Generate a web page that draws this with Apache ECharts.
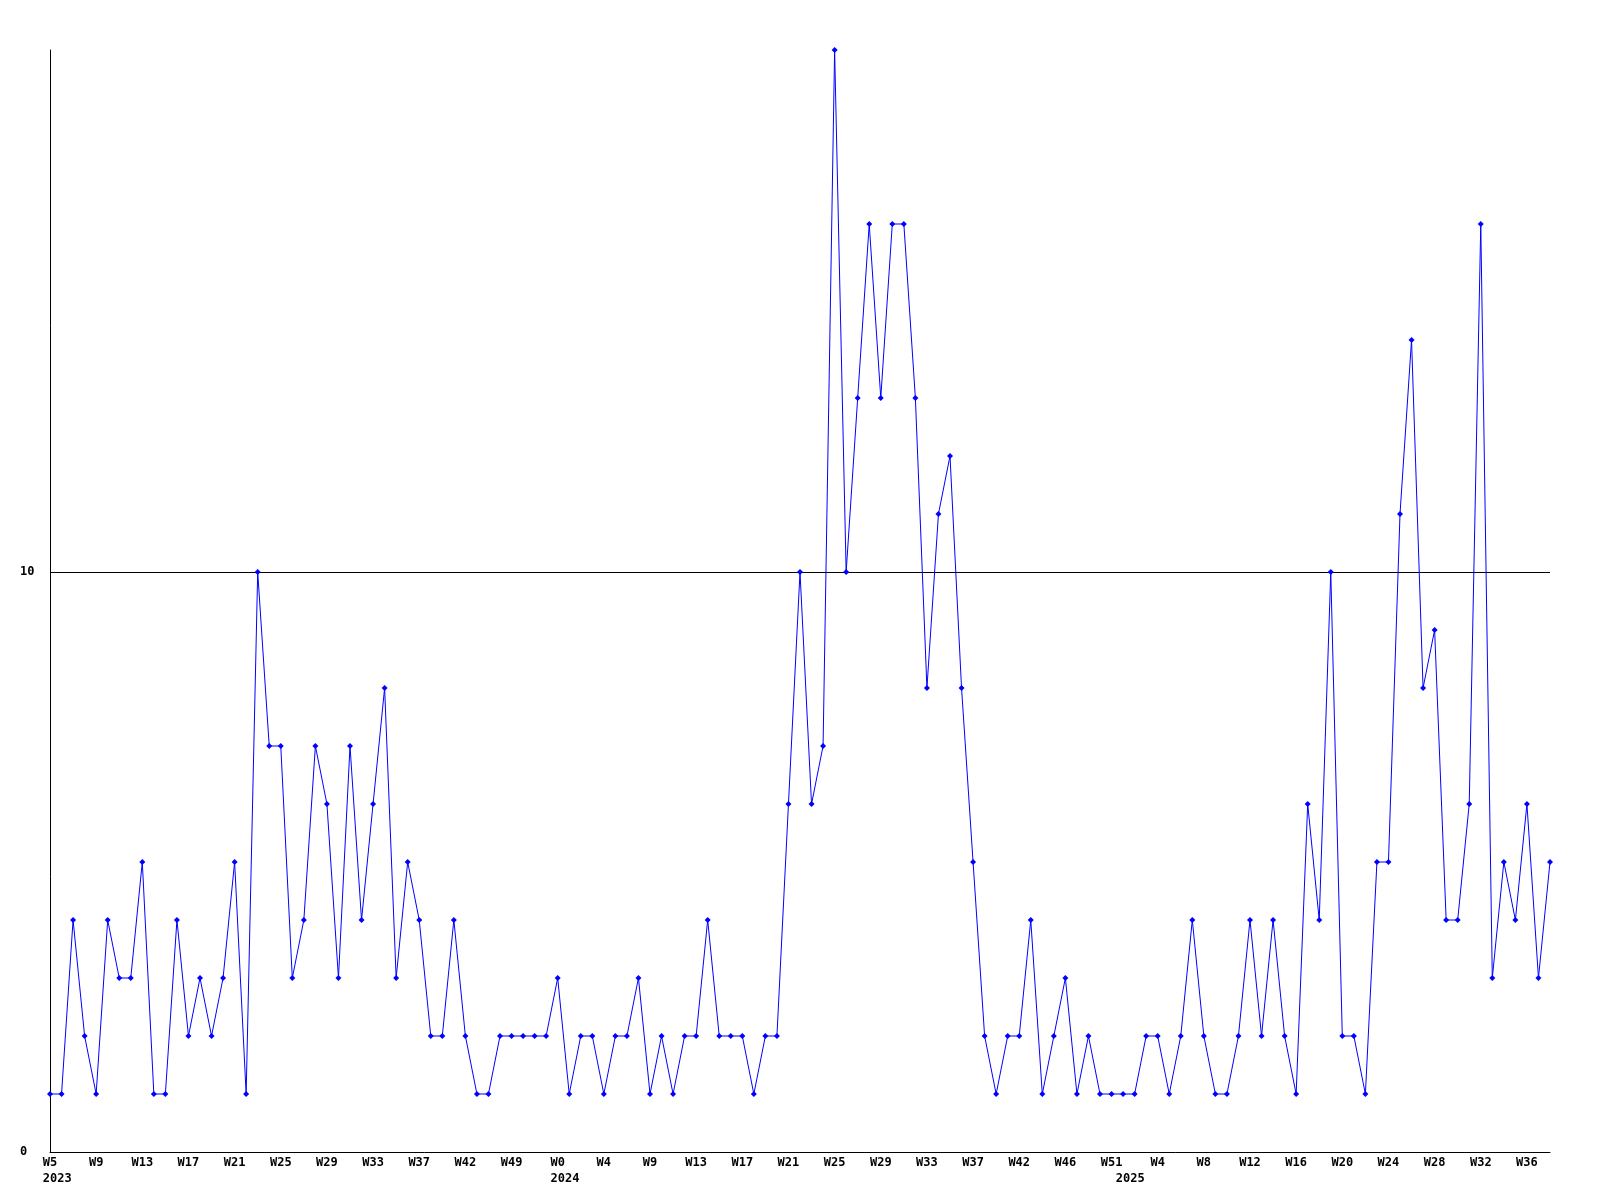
<!DOCTYPE html>
<html>
<head>
<meta charset="utf-8">
<script src="https://cdn.jsdelivr.net/npm/echarts@6/dist/echarts.min.js"></script>
<style>
html,body{margin:0;padding:0;background:#fff;}
#chart{width:1600px;height:1200px;}
</style>
</head>
<body>
<div id="chart"></div>
<script>
// Weekly categories (year-week)
const categories = [
  "2023-W5","2023-W6","2023-W7","2023-W8","2023-W9","2023-W10","2023-W11","2023-W12","2023-W13","2023-W14",
  "2023-W15","2023-W16","2023-W17","2023-W18","2023-W19","2023-W20","2023-W21","2023-W22","2023-W23","2023-W24",
  "2023-W25","2023-W26","2023-W27","2023-W28","2023-W29","2023-W30","2023-W31","2023-W32","2023-W33","2023-W34",
  "2023-W35","2023-W36","2023-W37","2023-W38","2023-W39","2023-W40","2023-W42","2023-W44","2023-W46","2023-W48",
  "2023-W49","2023-W50","2023-W51","2023-W52",
  "2024-W0","2024-W1","2024-W2","2024-W3","2024-W4","2024-W5","2024-W6","2024-W8","2024-W9","2024-W10",
  "2024-W11","2024-W12","2024-W13","2024-W14","2024-W15","2024-W16","2024-W17","2024-W18","2024-W19","2024-W20",
  "2024-W21","2024-W22","2024-W23","2024-W24","2024-W25","2024-W26","2024-W27","2024-W28","2024-W29","2024-W30",
  "2024-W31","2024-W32","2024-W33","2024-W34","2024-W35","2024-W36","2024-W37","2024-W38","2024-W39","2024-W40",
  "2024-W42","2024-W43","2024-W44","2024-W45","2024-W46","2024-W47","2024-W48","2024-W50","2024-W51",
  "2025-W1","2025-W2","2025-W3","2025-W4","2025-W5","2025-W6","2025-W7","2025-W8","2025-W9","2025-W10",
  "2025-W11","2025-W12","2025-W13","2025-W14","2025-W15","2025-W16","2025-W17","2025-W18","2025-W19","2025-W20",
  "2025-W21","2025-W22","2025-W23","2025-W24","2025-W25","2025-W26","2025-W27","2025-W28","2025-W29","2025-W30",
  "2025-W31","2025-W32","2025-W33","2025-W34","2025-W35","2025-W36","2025-W37","2025-W38"
];

// Weekly counts
const values = [
  1,1,4,2,1,4,3,3,5,1,
  1,4,2,3,2,3,5,1,10,7,
  7,3,4,7,6,3,7,4,6,8,
  3,5,4,2,2,4,2,1,1,2,
  2,2,2,2,3,1,2,2,1,2,
  2,3,1,2,1,2,2,4,2,2,
  2,1,2,2,6,10,6,7,19,10,
  13,16,13,16,16,13,8,11,12,8,
  5,2,1,2,2,4,1,2,3,1,
  2,1,1,1,1,2,2,1,2,4,
  2,1,1,2,4,2,4,2,1,6,
  4,10,2,2,1,5,5,11,14,8,
  9,4,4,6,16,3,5,4,6,3,
  5
];

const yTicks = [0, 10];

function yearOf(i){ return categories[i].split('-')[0]; }
function weekOf(i){ return categories[i].split('-')[1]; }
function isYearStart(i){ return i === 0 || yearOf(i) !== yearOf(i-1); }

const chart = echarts.init(document.getElementById('chart'), null, {renderer:'canvas'});
const font = '"DejaVu Sans Mono", "Liberation Mono", monospace';

chart.setOption({
  animation: false,
  backgroundColor: '#ffffff',
  grid: {left: 50, right: 50, top: 50, bottom: 48, containLabel: false},
  xAxis: {
    type: 'category',
    data: categories,
    boundaryGap: false,
    axisLine: {show: true, lineStyle: {color: '#000', width: 1}},
    axisTick: {show: false},
    splitLine: {show: false},
    axisLabel: {
      interval: function(index){ return index % 4 === 0 || isYearStart(index); },
      margin: 3,
      color: '#000',
      fontFamily: font,
      fontWeight: 'bold',
      fontSize: 12,
      lineHeight: 16,
      formatter: function(value, index){
        const wk = (index % 4 === 0) ? weekOf(index) : ' ';
        if (isYearStart(index)) return wk + '\n  ' + yearOf(index);
        return wk;
      }
    }
  },
  yAxis: {
    type: 'value',
    min: 0,
    max: 19,
    interval: 10,
    axisLine: {show: true, lineStyle: {color: '#000', width: 1}},
    axisTick: {show: false},
    splitLine: {show: true, showMinLine: false, showMaxLine: false, lineStyle: {color: '#000', width: 1}},
    axisLabel: {
      showMaxLabel: false,
      align: 'left',
      margin: 30,
      color: '#000',
      fontFamily: font,
      fontWeight: 'bold',
      fontSize: 12,
      formatter: function(v){ return yTicks.indexOf(v) >= 0 ? String(v) : ''; }
    }
  },
  series: [{
    type: 'line',
    data: values,
    symbol: 'diamond',
    symbolSize: 6,
    showAllSymbol: true,
    lineStyle: {color: '#0000ff', width: 1},
    itemStyle: {color: '#0000ff'},
    emphasis: {disabled: true}
  }]
});
</script>
</body>
</html>
